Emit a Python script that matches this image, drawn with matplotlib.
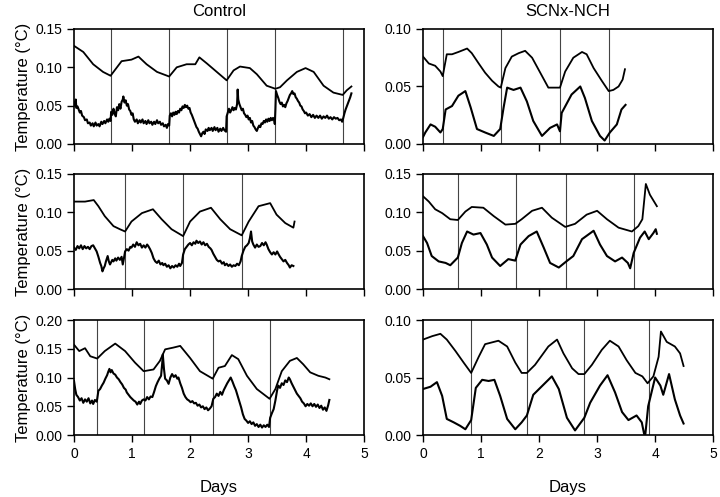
import matplotlib
matplotlib.use("Agg")
import matplotlib.pyplot as plt
from matplotlib.ticker import FormatStrFormatter

plt.rcParams['font.family'] = ['Liberation Sans', 'DejaVu Sans']

# ---- Control, animal 1 ----
a_vlines = [0.63, 1.64, 2.63, 3.47, 4.63]
a_up_x = [0.0, 0.16, 0.33, 0.5, 0.63, 0.74, 0.82, 0.99, 1.11, 1.25, 1.43, 1.64, 1.77, 1.94, 2.09, 2.16,
          2.29, 2.46, 2.63, 2.75, 2.86, 3.03, 3.15, 3.32, 3.47, 3.55, 3.67, 3.84, 3.99, 4.13, 4.30, 4.47,
          4.63, 4.70, 4.78]
a_up_y = [0.128, 0.120, 0.104, 0.094, 0.089, 0.100, 0.108, 0.110, 0.114, 0.104, 0.094, 0.088, 0.100, 0.104,
          0.104, 0.113, 0.105, 0.094, 0.083, 0.096, 0.101, 0.099, 0.091, 0.076, 0.072, 0.074, 0.083, 0.094,
          0.099, 0.094, 0.076, 0.067, 0.064, 0.070, 0.075]
a_lo = [(0.00, 0.054), (0.02, 0.050), (0.03, 0.058), (0.04, 0.047), (0.06, 0.049), (0.08, 0.045),
        (0.10, 0.041), (0.12, 0.043), (0.14, 0.037), (0.17, 0.035), (0.19, 0.031), (0.22, 0.032),
        (0.24, 0.027), (0.27, 0.028), (0.29, 0.024), (0.32, 0.027), (0.34, 0.023), (0.37, 0.028),
        (0.39, 0.024), (0.42, 0.026), (0.44, 0.023), (0.47, 0.029), (0.49, 0.026), (0.52, 0.030),
        (0.54, 0.027), (0.57, 0.032), (0.59, 0.029), (0.61, 0.033), (0.63, 0.030), (0.64, 0.042),
        (0.66, 0.038), (0.68, 0.046), (0.70, 0.040), (0.72, 0.036), (0.74, 0.048), (0.76, 0.044),
        (0.78, 0.052), (0.80, 0.046), (0.82, 0.055), (0.84, 0.058), (0.85, 0.062), (0.87, 0.054),
        (0.89, 0.057), (0.91, 0.050), (0.93, 0.052), (0.95, 0.045), (0.97, 0.043), (0.99, 0.038),
        (1.01, 0.040), (1.03, 0.032), (1.05, 0.029), (1.08, 0.032), (1.10, 0.027), (1.13, 0.031),
        (1.15, 0.028), (1.18, 0.032), (1.20, 0.027), (1.23, 0.030), (1.25, 0.026), (1.28, 0.031),
        (1.30, 0.027), (1.33, 0.029), (1.35, 0.025), (1.38, 0.029), (1.40, 0.026), (1.43, 0.031),
        (1.45, 0.027), (1.48, 0.029), (1.50, 0.025), (1.53, 0.027), (1.55, 0.023), (1.58, 0.025),
        (1.60, 0.021), (1.62, 0.026), (1.64, 0.024), (1.65, 0.037), (1.67, 0.040), (1.69, 0.036),
        (1.71, 0.041), (1.73, 0.038), (1.75, 0.042), (1.77, 0.039), (1.79, 0.043), (1.81, 0.041),
        (1.83, 0.046), (1.85, 0.044), (1.87, 0.049), (1.89, 0.047), (1.91, 0.051), (1.93, 0.048),
        (1.95, 0.050), (1.97, 0.046), (1.99, 0.047), (2.01, 0.041), (2.03, 0.038), (2.05, 0.034),
        (2.07, 0.030), (2.09, 0.026), (2.11, 0.022), (2.13, 0.020), (2.15, 0.016), (2.17, 0.013),
        (2.19, 0.010), (2.21, 0.014), (2.23, 0.016), (2.25, 0.013), (2.27, 0.019), (2.30, 0.017),
        (2.32, 0.021), (2.34, 0.018), (2.37, 0.021), (2.39, 0.017), (2.42, 0.022), (2.44, 0.018),
        (2.47, 0.021), (2.49, 0.016), (2.52, 0.020), (2.54, 0.017), (2.57, 0.021), (2.59, 0.018),
        (2.62, 0.016), (2.63, 0.036), (2.65, 0.041), (2.67, 0.046), (2.69, 0.041), (2.71, 0.044),
        (2.73, 0.048), (2.75, 0.044), (2.77, 0.047), (2.79, 0.045), (2.81, 0.052), (2.82, 0.071),
        (2.83, 0.058), (2.85, 0.052), (2.87, 0.048), (2.89, 0.044), (2.91, 0.046), (2.93, 0.040),
        (2.95, 0.038), (2.97, 0.035), (2.99, 0.037), (3.01, 0.032), (3.03, 0.034), (3.05, 0.028),
        (3.07, 0.030), (3.09, 0.024), (3.11, 0.022), (3.13, 0.019), (3.15, 0.017), (3.17, 0.021),
        (3.19, 0.024), (3.21, 0.022), (3.23, 0.027), (3.25, 0.026), (3.27, 0.030), (3.29, 0.028),
        (3.31, 0.032), (3.33, 0.029), (3.35, 0.033), (3.37, 0.030), (3.39, 0.034), (3.41, 0.031),
        (3.43, 0.034), (3.45, 0.031), (3.46, 0.026), (3.47, 0.045), (3.48, 0.069), (3.50, 0.064),
        (3.52, 0.060), (3.54, 0.055), (3.56, 0.052), (3.58, 0.054), (3.60, 0.049), (3.62, 0.051),
        (3.64, 0.048), (3.66, 0.053), (3.68, 0.056), (3.70, 0.060), (3.72, 0.064), (3.74, 0.066),
        (3.76, 0.069), (3.78, 0.065), (3.80, 0.066), (3.82, 0.061), (3.84, 0.059), (3.86, 0.056),
        (3.88, 0.054), (3.90, 0.050), (3.92, 0.049), (3.94, 0.045), (3.96, 0.043), (3.98, 0.040),
        (4.00, 0.041), (4.03, 0.037), (4.06, 0.039), (4.09, 0.035), (4.12, 0.038), (4.15, 0.034),
        (4.18, 0.037), (4.21, 0.034), (4.24, 0.037), (4.27, 0.033), (4.30, 0.036), (4.33, 0.034),
        (4.36, 0.037), (4.39, 0.033), (4.42, 0.035), (4.45, 0.032), (4.48, 0.035), (4.51, 0.033),
        (4.54, 0.034), (4.57, 0.031), (4.60, 0.032), (4.62, 0.029), (4.64, 0.034), (4.66, 0.040),
        (4.68, 0.045), (4.70, 0.049), (4.72, 0.053), (4.74, 0.057), (4.76, 0.061), (4.78, 0.066)]
a_lo_x, a_lo_y = zip(*a_lo)

# ---- SCNx-NCH, animal 1 ----
b_vlines = [0.34, 1.34, 2.36, 3.21]
b_up_x = [0.0, 0.10, 0.21, 0.30, 0.34, 0.41, 0.50, 0.61, 0.76, 0.84, 0.96, 1.07, 1.19, 1.30, 1.34, 1.42,
          1.53, 1.65, 1.76, 1.88, 2.02, 2.16, 2.31, 2.36, 2.45, 2.59, 2.74, 2.82, 2.94, 3.08, 3.20, 3.28,
          3.37, 3.44, 3.48]
b_up_y = [0.076, 0.070, 0.068, 0.063, 0.059, 0.078, 0.078, 0.080, 0.083, 0.079, 0.070, 0.062, 0.055, 0.050,
          0.049, 0.066, 0.076, 0.079, 0.081, 0.075, 0.062, 0.049, 0.049, 0.049, 0.063, 0.075, 0.080, 0.078,
          0.066, 0.055, 0.046, 0.047, 0.050, 0.056, 0.065]
b_lo_x = [0.0, 0.04, 0.13, 0.21, 0.30, 0.34, 0.39, 0.50, 0.61, 0.73, 0.82, 0.93, 1.07, 1.22, 1.33, 1.39,
          1.45, 1.56, 1.68, 1.79, 1.90, 2.05, 2.19, 2.31, 2.36, 2.39, 2.56, 2.71, 2.79, 2.91, 3.05, 3.13,
          3.22, 3.34, 3.42, 3.49]
b_lo_y = [0.006, 0.010, 0.017, 0.015, 0.010, 0.013, 0.030, 0.033, 0.042, 0.046, 0.032, 0.013, 0.010, 0.007,
          0.013, 0.032, 0.049, 0.047, 0.049, 0.037, 0.020, 0.007, 0.014, 0.017, 0.011, 0.027, 0.043, 0.050,
          0.040, 0.020, 0.007, 0.003, 0.010, 0.017, 0.030, 0.034]

# ---- Control, animal 2 ----
c_vlines = [0.88, 1.88, 2.89]
c_up_x = [0.0, 0.19, 0.34, 0.42, 0.53, 0.68, 0.79, 0.88, 0.99, 1.17, 1.36, 1.51, 1.68, 1.88, 2.00, 2.17,
          2.36, 2.52, 2.69, 2.89, 3.01, 3.18, 3.38, 3.49, 3.64, 3.78, 3.80]
c_up_y = [0.114, 0.114, 0.116, 0.108, 0.095, 0.082, 0.078, 0.075, 0.088, 0.099, 0.104, 0.091, 0.078, 0.069,
          0.088, 0.101, 0.106, 0.091, 0.078, 0.070, 0.088, 0.108, 0.112, 0.097, 0.086, 0.080, 0.088]
c_lo = [(0.00, 0.054), (0.03, 0.051), (0.06, 0.056), (0.09, 0.053), (0.12, 0.057), (0.15, 0.052),
        (0.18, 0.056), (0.21, 0.053), (0.24, 0.055), (0.27, 0.052), (0.30, 0.056), (0.33, 0.057),
        (0.36, 0.053), (0.39, 0.049), (0.42, 0.042), (0.45, 0.034), (0.47, 0.030), (0.49, 0.023),
        (0.51, 0.027), (0.53, 0.030), (0.55, 0.036), (0.58, 0.043), (0.60, 0.036), (0.62, 0.032),
        (0.64, 0.035), (0.66, 0.038), (0.68, 0.036), (0.71, 0.040), (0.73, 0.037), (0.76, 0.041),
        (0.79, 0.038), (0.82, 0.042), (0.84, 0.032), (0.86, 0.040), (0.88, 0.049), (0.91, 0.052),
        (0.94, 0.050), (0.97, 0.055), (0.99, 0.054), (1.02, 0.058), (1.05, 0.055), (1.08, 0.061),
        (1.11, 0.057), (1.14, 0.059), (1.17, 0.054), (1.20, 0.057), (1.23, 0.054), (1.26, 0.058),
        (1.28, 0.056), (1.31, 0.052), (1.34, 0.047), (1.37, 0.040), (1.40, 0.036), (1.43, 0.034),
        (1.46, 0.037), (1.49, 0.032), (1.52, 0.034), (1.54, 0.031), (1.57, 0.033), (1.60, 0.029),
        (1.63, 0.031), (1.66, 0.027), (1.69, 0.030), (1.72, 0.028), (1.75, 0.031), (1.78, 0.029),
        (1.81, 0.033), (1.83, 0.030), (1.86, 0.034), (1.88, 0.045), (1.91, 0.052), (1.94, 0.055),
        (1.97, 0.058), (2.00, 0.060), (2.03, 0.057), (2.06, 0.061), (2.09, 0.059), (2.11, 0.063),
        (2.14, 0.060), (2.17, 0.062), (2.20, 0.058), (2.23, 0.061), (2.26, 0.057), (2.29, 0.059),
        (2.32, 0.055), (2.35, 0.053), (2.37, 0.051), (2.40, 0.046), (2.43, 0.042), (2.46, 0.038),
        (2.49, 0.036), (2.52, 0.037), (2.55, 0.033), (2.58, 0.035), (2.60, 0.031), (2.63, 0.033),
        (2.66, 0.030), (2.69, 0.032), (2.72, 0.029), (2.75, 0.031), (2.78, 0.030), (2.81, 0.033),
        (2.84, 0.031), (2.87, 0.036), (2.89, 0.043), (2.92, 0.050), (2.95, 0.055), (2.98, 0.057),
        (3.01, 0.060), (3.03, 0.066), (3.05, 0.075), (3.07, 0.062), (3.09, 0.058), (3.12, 0.054),
        (3.15, 0.058), (3.18, 0.055), (3.21, 0.056), (3.24, 0.060), (3.27, 0.057), (3.30, 0.061),
        (3.32, 0.058), (3.35, 0.052), (3.38, 0.048), (3.41, 0.045), (3.44, 0.048), (3.47, 0.045),
        (3.50, 0.049), (3.52, 0.046), (3.55, 0.042), (3.58, 0.039), (3.61, 0.036), (3.64, 0.038),
        (3.67, 0.034), (3.70, 0.031), (3.72, 0.028), (3.75, 0.031), (3.78, 0.030)]
c_lo_x, c_lo_y = zip(*c_lo)

# ---- SCNx-NCH, animal 2 ----
d_vlines = [0.60, 1.60, 2.47, 3.63]
d_up_x = [0.0, 0.10, 0.21, 0.33, 0.47, 0.60, 0.73, 0.84, 1.04, 1.22, 1.42, 1.59, 1.70, 1.88, 2.05, 2.22,
          2.45, 2.62, 2.82, 3.00, 3.17, 3.37, 3.60, 3.71, 3.78, 3.84, 3.91, 4.03]
d_up_y = [0.121, 0.114, 0.104, 0.099, 0.091, 0.090, 0.101, 0.107, 0.106, 0.095, 0.084, 0.085, 0.091, 0.102,
          0.106, 0.093, 0.081, 0.085, 0.097, 0.102, 0.091, 0.080, 0.075, 0.082, 0.091, 0.137, 0.123, 0.108]
d_lo_x = [0.0, 0.07, 0.15, 0.27, 0.39, 0.47, 0.60, 0.67, 0.76, 0.87, 0.99, 1.10, 1.19, 1.33, 1.47, 1.59,
          1.68, 1.82, 1.96, 2.08, 2.19, 2.34, 2.47, 2.59, 2.74, 2.94, 3.05, 3.17, 3.31, 3.43, 3.53, 3.57,
          3.63, 3.74, 3.82, 3.89, 3.97, 4.01, 4.03]
d_lo_y = [0.069, 0.060, 0.043, 0.036, 0.034, 0.031, 0.041, 0.060, 0.075, 0.071, 0.073, 0.058, 0.041, 0.030,
          0.039, 0.037, 0.058, 0.069, 0.075, 0.054, 0.034, 0.028, 0.036, 0.043, 0.065, 0.076, 0.058, 0.043,
          0.036, 0.041, 0.034, 0.027, 0.047, 0.067, 0.075, 0.065, 0.073, 0.078, 0.072]

# ---- Control, animal 3 ----
e_vlines = [0.40, 1.20, 2.39, 3.37]
e_up_x = [0.0, 0.09, 0.19, 0.28, 0.40, 0.53, 0.71, 0.88, 1.05, 1.20, 1.37, 1.48, 1.57, 1.71, 1.83, 2.00,
          2.17, 2.39, 2.49, 2.60, 2.72, 2.83, 2.98, 3.15, 3.37, 3.47, 3.58, 3.72, 3.84, 3.95, 4.07, 4.21,
          4.33, 4.40]
e_up_y = [0.157, 0.146, 0.151, 0.137, 0.133, 0.146, 0.159, 0.146, 0.126, 0.111, 0.114, 0.129, 0.149, 0.152,
          0.155, 0.134, 0.111, 0.098, 0.117, 0.120, 0.139, 0.132, 0.103, 0.080, 0.063, 0.080, 0.111, 0.129,
          0.134, 0.123, 0.109, 0.103, 0.100, 0.097]
e_lo = [(0.00, 0.094), (0.02, 0.080), (0.04, 0.070), (0.07, 0.066), (0.10, 0.060), (0.13, 0.064),
        (0.16, 0.056), (0.19, 0.062), (0.22, 0.058), (0.25, 0.064), (0.28, 0.055), (0.31, 0.060),
        (0.33, 0.054), (0.36, 0.061), (0.39, 0.058), (0.40, 0.063), (0.42, 0.077), (0.45, 0.080),
        (0.48, 0.086), (0.51, 0.091), (0.54, 0.098), (0.57, 0.104), (0.59, 0.110), (0.61, 0.115),
        (0.63, 0.109), (0.65, 0.113), (0.68, 0.107), (0.71, 0.105), (0.74, 0.100), (0.77, 0.097),
        (0.80, 0.092), (0.83, 0.088), (0.86, 0.082), (0.89, 0.079), (0.91, 0.074), (0.94, 0.070),
        (0.97, 0.066), (1.00, 0.063), (1.03, 0.060), (1.06, 0.058), (1.09, 0.053), (1.12, 0.058),
        (1.14, 0.054), (1.17, 0.060), (1.20, 0.062), (1.23, 0.060), (1.26, 0.066), (1.29, 0.062),
        (1.32, 0.067), (1.35, 0.066), (1.38, 0.075), (1.41, 0.085), (1.44, 0.092), (1.47, 0.098),
        (1.50, 0.103), (1.52, 0.125), (1.53, 0.140), (1.55, 0.115), (1.57, 0.098), (1.60, 0.095),
        (1.63, 0.089), (1.66, 0.100), (1.69, 0.106), (1.72, 0.101), (1.75, 0.104), (1.78, 0.098),
        (1.80, 0.100), (1.83, 0.090), (1.86, 0.082), (1.89, 0.072), (1.92, 0.066), (1.95, 0.062),
        (1.98, 0.060), (2.01, 0.057), (2.04, 0.059), (2.07, 0.055), (2.10, 0.056), (2.13, 0.051),
        (2.16, 0.053), (2.19, 0.048), (2.22, 0.050), (2.25, 0.045), (2.28, 0.048), (2.31, 0.043),
        (2.34, 0.046), (2.37, 0.050), (2.40, 0.063), (2.43, 0.066), (2.46, 0.072), (2.49, 0.068),
        (2.52, 0.075), (2.55, 0.070), (2.58, 0.078), (2.61, 0.084), (2.64, 0.090), (2.67, 0.095),
        (2.70, 0.100), (2.73, 0.093), (2.76, 0.085), (2.79, 0.078), (2.82, 0.068), (2.85, 0.058),
        (2.88, 0.048), (2.91, 0.036), (2.94, 0.028), (2.97, 0.025), (3.00, 0.021), (3.03, 0.024),
        (3.06, 0.019), (3.09, 0.022), (3.12, 0.016), (3.15, 0.019), (3.18, 0.014), (3.21, 0.018),
        (3.24, 0.013), (3.27, 0.017), (3.30, 0.014), (3.33, 0.018), (3.36, 0.014), (3.38, 0.030),
        (3.41, 0.038), (3.44, 0.045), (3.47, 0.060), (3.50, 0.078), (3.52, 0.086), (3.55, 0.082),
        (3.58, 0.090), (3.61, 0.087), (3.64, 0.095), (3.67, 0.092), (3.70, 0.100), (3.72, 0.097),
        (3.75, 0.090), (3.78, 0.084), (3.81, 0.078), (3.84, 0.072), (3.87, 0.068), (3.90, 0.064),
        (3.93, 0.058), (3.96, 0.055), (3.99, 0.050), (4.02, 0.054), (4.05, 0.051), (4.08, 0.055),
        (4.11, 0.050), (4.14, 0.054), (4.17, 0.049), (4.20, 0.053), (4.23, 0.047), (4.26, 0.051),
        (4.29, 0.044), (4.32, 0.048), (4.35, 0.042), (4.38, 0.052), (4.40, 0.061)]
e_lo_x, e_lo_y = zip(*e_lo)

# ---- SCNx-NCH, animal 3 ----
f_vlines = [0.83, 1.79, 2.78, 3.89]
f_up_x = [0.0, 0.16, 0.30, 0.41, 0.56, 0.70, 0.83, 0.96, 1.07, 1.30, 1.45, 1.59, 1.70, 1.79, 1.93, 2.16,
          2.31, 2.42, 2.57, 2.68, 2.78, 2.91, 3.08, 3.22, 3.37, 3.51, 3.66, 3.78, 3.87, 3.97, 4.06, 4.10,
          4.20, 4.34, 4.43, 4.49]
f_up_y = [0.083, 0.086, 0.088, 0.083, 0.073, 0.063, 0.054, 0.068, 0.079, 0.082, 0.077, 0.063, 0.054, 0.054,
          0.061, 0.077, 0.083, 0.071, 0.058, 0.053, 0.053, 0.061, 0.074, 0.082, 0.077, 0.065, 0.054, 0.051,
          0.045, 0.051, 0.068, 0.090, 0.081, 0.077, 0.071, 0.060]
f_lo_x = [0.0, 0.13, 0.24, 0.33, 0.41, 0.53, 0.64, 0.73, 0.83, 0.91, 1.02, 1.13, 1.23, 1.33, 1.45, 1.59,
          1.70, 1.79, 1.90, 2.08, 2.22, 2.34, 2.48, 2.62, 2.78, 2.88, 3.05, 3.18, 3.31, 3.43, 3.54, 3.68,
          3.77, 3.81, 3.83, 3.88, 4.00, 4.09, 4.14, 4.24, 4.34, 4.43, 4.49]
f_lo_y = [0.040, 0.042, 0.046, 0.034, 0.014, 0.011, 0.008, 0.005, 0.013, 0.041, 0.048, 0.047, 0.048, 0.034,
          0.014, 0.005, 0.011, 0.017, 0.035, 0.044, 0.051, 0.040, 0.015, 0.004, 0.015, 0.028, 0.043, 0.052,
          0.037, 0.020, 0.013, 0.017, 0.011, 0.001, 0.000, 0.025, 0.050, 0.043, 0.035, 0.053, 0.031, 0.017,
          0.010]

panels = [
    (a_up_x, a_up_y, a_lo_x, a_lo_y, a_vlines, 0.15),
    (b_up_x, b_up_y, b_lo_x, b_lo_y, b_vlines, 0.10),
    (c_up_x, c_up_y, c_lo_x, c_lo_y, c_vlines, 0.15),
    (d_up_x, d_up_y, d_lo_x, d_lo_y, d_vlines, 0.15),
    (e_up_x, e_up_y, e_lo_x, e_lo_y, e_vlines, 0.20),
    (f_up_x, f_up_y, f_lo_x, f_lo_y, f_vlines, 0.10),
]
titles = ['Control', 'SCNx-NCH']

fig = plt.figure(figsize=(7.2, 4.97), dpi=100)
lefts = [0.1028, 0.5875]
bottoms = [0.7103, 0.4185, 0.1247]
w, h = 0.403, 0.2314

for i, (ux, uy, lx, ly, vl, ymax) in enumerate(panels):
    row, col = i // 2, i % 2
    ax = fig.add_axes([lefts[col], bottoms[row], w, h])
    for v in vl:
        ax.axvline(v, color='#444444', lw=0.8)
    ax.plot(ux, uy, color='black', lw=1.3)
    ax.plot(lx, ly, color='black', lw=1.5)
    ax.set_xlim(0, 5)
    ax.set_ylim(0, ymax)
    ax.set_yticks([k * 0.05 for k in range(int(round(ymax / 0.05)) + 1)])
    ax.yaxis.set_major_formatter(FormatStrFormatter('%.2f'))
    ax.set_xticks(range(6))
    ax.tick_params(direction='out', length=5, width=1, labelsize=10)
    for s in ax.spines.values():
        s.set_linewidth(1.2)
    if row < 2:
        ax.set_xticklabels([])
    else:
        ax.set_xlabel('Days', fontsize=12, labelpad=14)
    if col == 0:
        ax.set_ylabel('Temperature (°C)', fontsize=12, labelpad=3)
    if row == 0:
        ax.set_title(titles[col], fontsize=12, pad=9)

fig.savefig('out.png', dpi=100)
